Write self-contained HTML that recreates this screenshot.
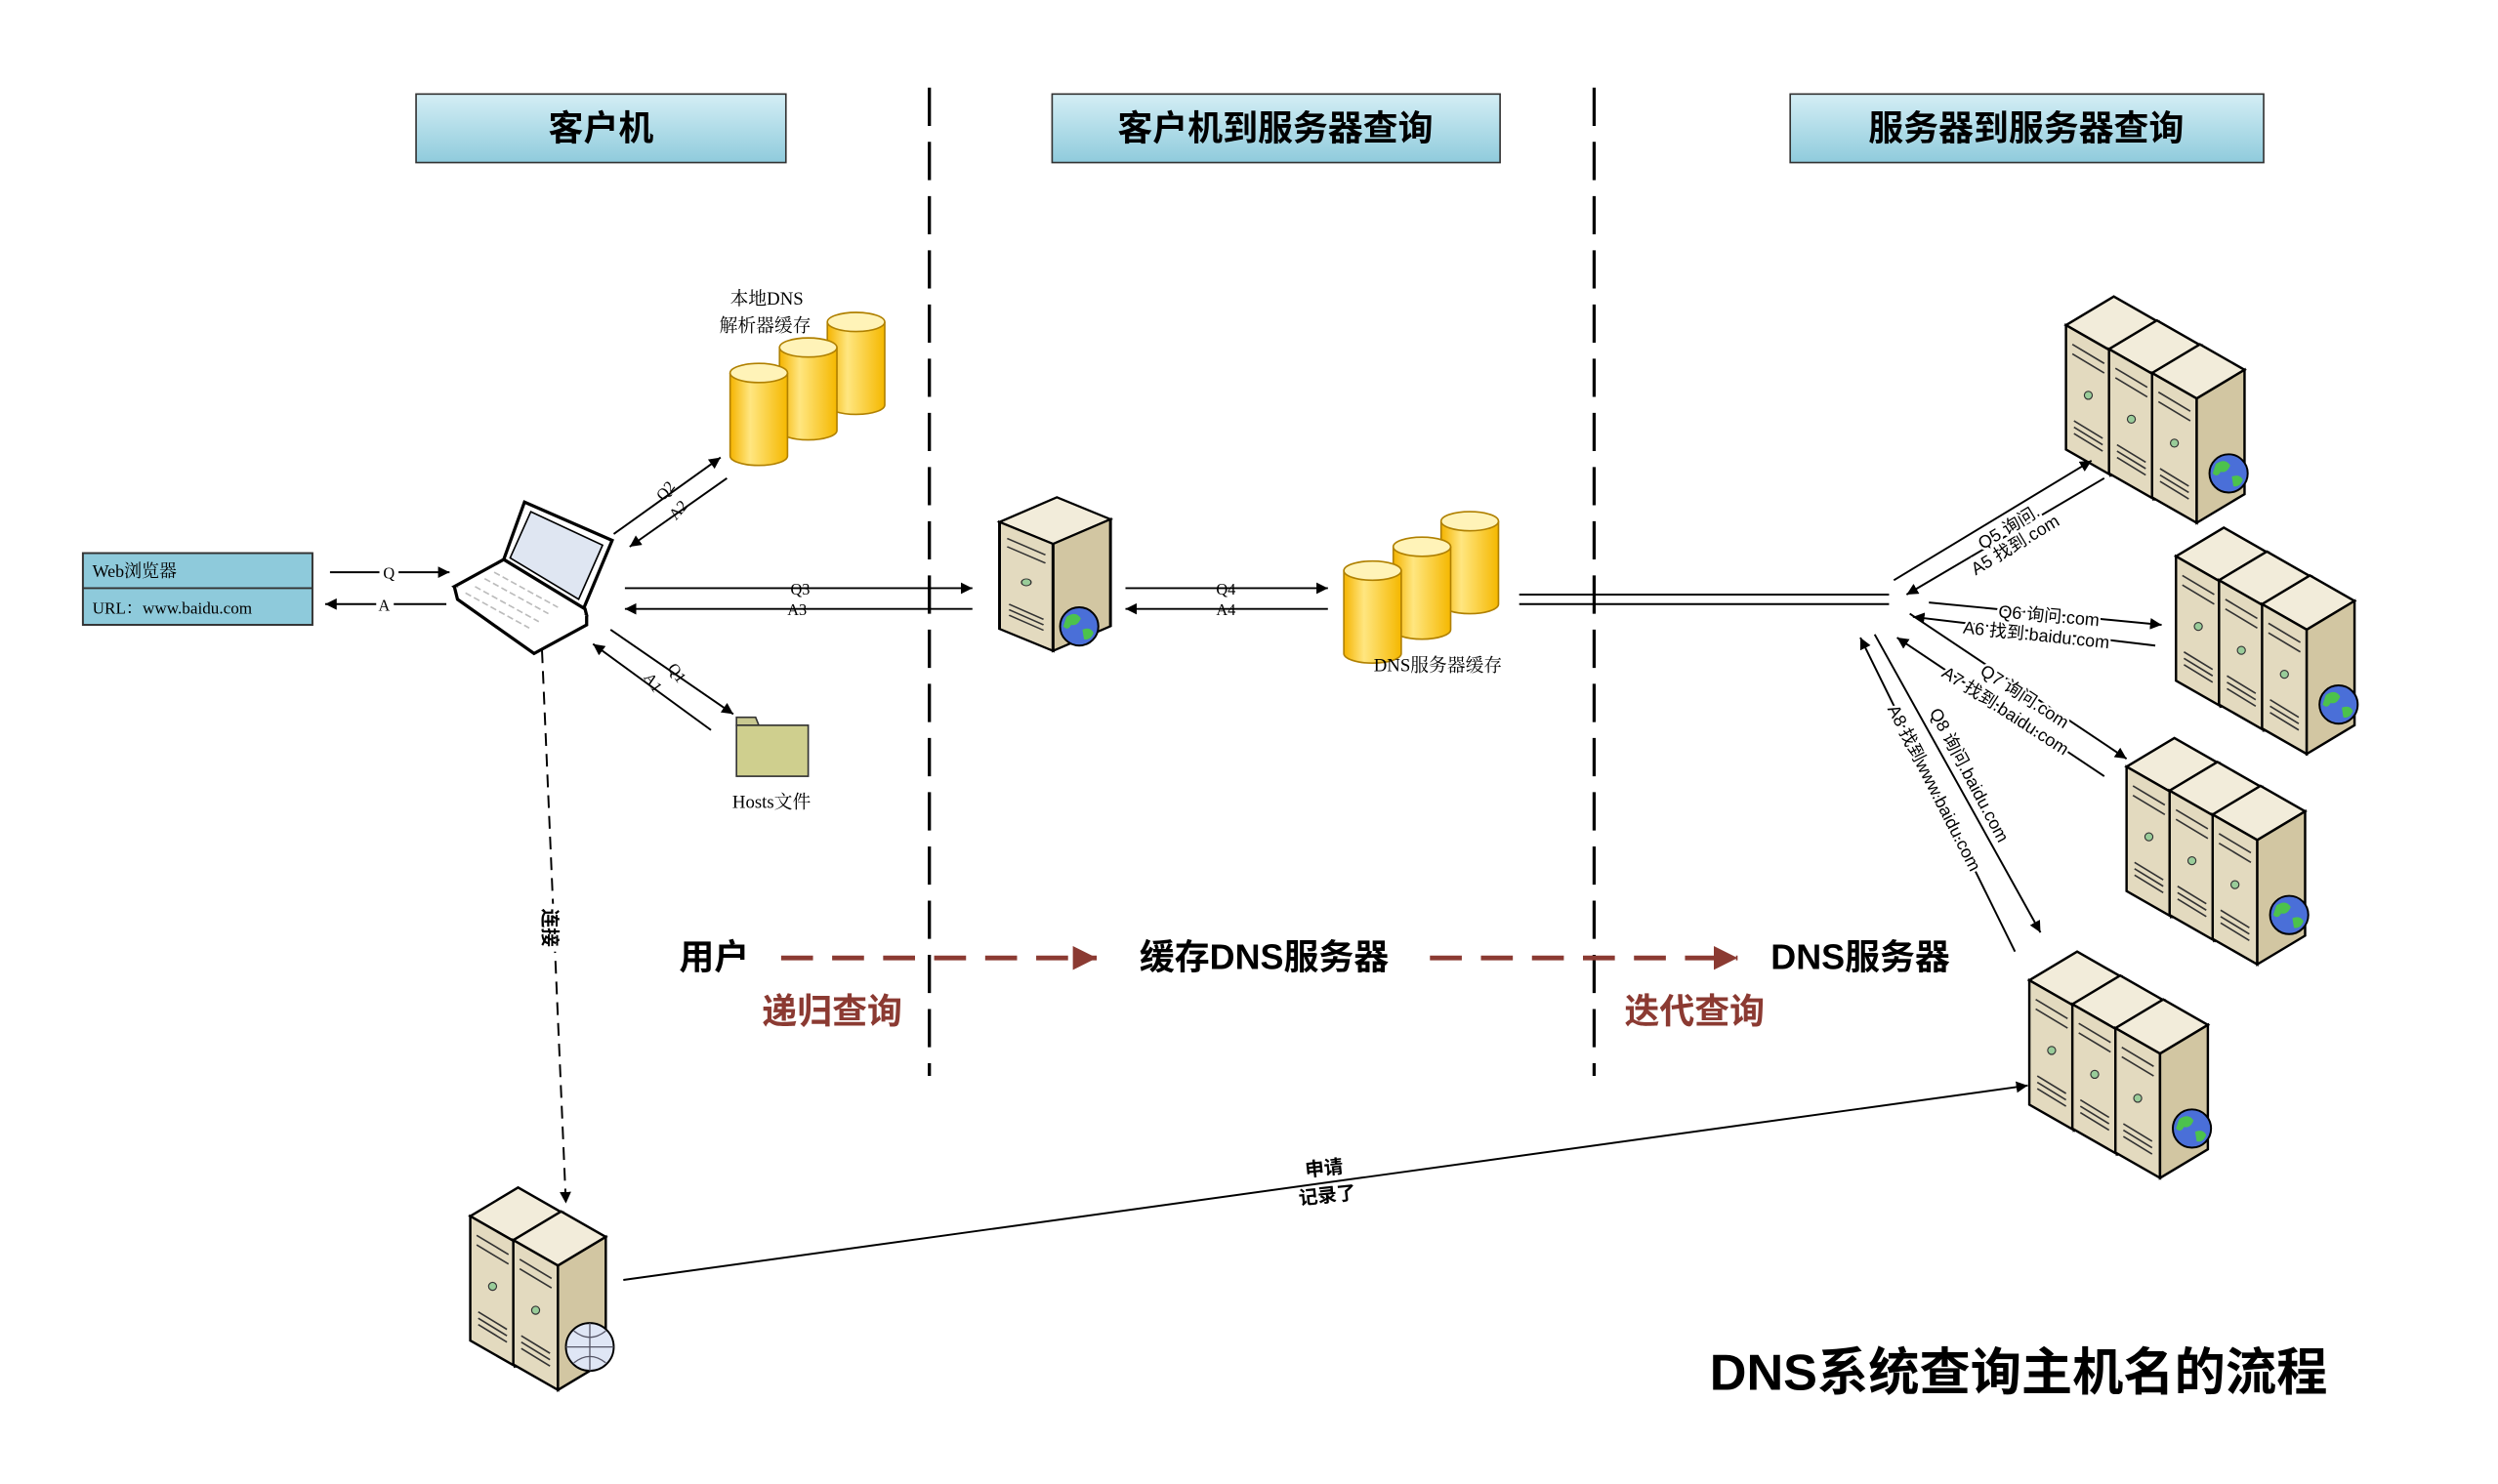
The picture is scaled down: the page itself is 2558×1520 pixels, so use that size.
<!DOCTYPE html>
<html><head><meta charset="utf-8"><style>
html,body{margin:0;padding:0;background:#fff;}
svg{display:block;}
text{font-family:"Liberation Sans","Noto Sans CJK SC",sans-serif;}
.s{font-family:"Liberation Serif","Noto Serif CJK SC",serif;}
</style></head><body>
<svg width="2558" height="1520" viewBox="0 0 1567 931" preserveAspectRatio="none" xmlns="http://www.w3.org/2000/svg">
<defs>
<linearGradient id="hb" x1="0" y1="0" x2="0" y2="1"><stop offset="0" stop-color="#d4eef5"/><stop offset="1" stop-color="#8fcbdc"/></linearGradient>
<linearGradient id="cy" x1="0" y1="0" x2="1" y2="0"><stop offset="0" stop-color="#f5b400"/><stop offset="0.35" stop-color="#ffe680"/><stop offset="1" stop-color="#f5b800"/></linearGradient>
<marker id="ah" viewBox="0 0 10 10" refX="10" refY="5" markerWidth="6" markerHeight="6" orient="auto-start-reverse"><path d="M0,0L10,5L0,10z" fill="#000"/></marker>
<marker id="ahr" viewBox="0 0 10 10" refX="10" refY="5" markerWidth="5" markerHeight="5" orient="auto"><path d="M0,0L10,5L0,10z" fill="#8b3a32"/></marker>
<g id="unit">
<polygon points="0,18 30,0 58,16 28,34" fill="#f2ecda" stroke="#000" stroke-width="1.5"/>
<polygon points="0,18 28,34 28,112 0,96" fill="#e3dabf" stroke="#000" stroke-width="1.5"/>
<polygon points="28,34 58,16 58,94 28,112" fill="#d2c6a2" stroke="#000" stroke-width="1.5"/>
<path d="M4,30 L24,42 M4,36 L24,48 M5,78 L23,89 M5,82 L23,93 M5,86 L23,97" stroke="#333" stroke-width="1" fill="none"/>
<circle cx="14" cy="62" r="2.5" fill="#9c9" stroke="#333" stroke-width="0.7"/>
</g>
<g id="globe"><circle r="12" fill="#4a6fd8" stroke="#000" stroke-width="1.2"/><path d="M-8,-6 q6,-4 9,1 q-2,5 -6,4 q-2,4 -5,1z M2,2 q5,-2 7,2 q-2,5 -6,4z" fill="#4cc24c"/></g>
<g id="srv3"><use href="#unit" x="0" y="0"/><use href="#unit" x="27" y="15"/><use href="#unit" x="54" y="30"/><use href="#globe" x="102" y="111"/></g>
<g id="cyl"><path d="M0,6 L0,58 A18,6 0 0 0 36,58 L36,6" fill="url(#cy)" stroke="#b08000" stroke-width="1"/><ellipse cx="18" cy="6" rx="18" ry="6" fill="#fff3b8" stroke="#b08000" stroke-width="1"/></g>
</defs>

<rect x="261" y="59" width="232" height="43" fill="url(#hb)" stroke="#333" stroke-width="1"/>
<text x="377" y="88" font-size="22" font-weight="bold" text-anchor="middle">客户机</text>
<rect x="660" y="59" width="281" height="43" fill="url(#hb)" stroke="#333" stroke-width="1"/>
<text x="800" y="88" font-size="22" font-weight="bold" text-anchor="middle">客户机到服务器查询</text>
<rect x="1123" y="59" width="297" height="43" fill="url(#hb)" stroke="#333" stroke-width="1"/>
<text x="1271" y="88" font-size="22" font-weight="bold" text-anchor="middle">服务器到服务器查询</text>

<line x1="583" y1="55" x2="583" y2="675" stroke="#000" stroke-width="2" stroke-dasharray="24,10"/>
<line x1="1000" y1="55" x2="1000" y2="675" stroke="#000" stroke-width="2" stroke-dasharray="24,10"/>

<rect x="52" y="347" width="144" height="45" fill="#8ecadb" stroke="#333" stroke-width="1.2"/>
<line x1="52" y1="369" x2="196" y2="369" stroke="#333" stroke-width="1.2"/>
<text x="58" y="362" font-size="11" class="s">Web浏览器</text>
<text x="58" y="385" font-size="10.5" class="s">URL：www.baidu.com</text>
<line x1="207" y1="359" x2="282" y2="359" stroke="#000" stroke-width="1.2" marker-end="url(#ah)"/>
<rect x="238" y="353" width="12" height="11" fill="#fff"/><text x="244" y="363" font-size="10" text-anchor="middle" class="s">Q</text>
<line x1="280" y1="379" x2="204" y2="379" stroke="#000" stroke-width="1.2" marker-end="url(#ah)"/>
<rect x="236" y="373" width="11" height="11" fill="#fff"/><text x="241" y="383" font-size="10" text-anchor="middle" class="s">A</text>

<polygon points="329,315 384,339 366,382 316,351" fill="#fff" stroke="#000" stroke-width="2"/>
<polygon points="333,321 378,342 363,376 320,350" fill="#dfe6f2" stroke="#000" stroke-width="1"/>
<polygon points="285,368 316,351 367,382 368,386 335,402" fill="#fff" stroke="#000" stroke-width="2"/>
<path d="M285,368 L287,376 L335,410 L368,392 L368,386" fill="#fff" stroke="#000" stroke-width="2"/>
<path d="M298,368 l40,22 M304,363 l40,22 M310,359 l40,22 M292,372 l40,22" stroke="#bbb" stroke-width="1" stroke-dasharray="4,2"/>

<use href="#cyl" x="519" y="196"/>
<use href="#cyl" x="489" y="212"/>
<use href="#cyl" x="458" y="228"/>
<text x="481" y="191" font-size="11.5" text-anchor="middle" class="s">本地DNS</text>
<text x="480" y="208" font-size="11.5" text-anchor="middle" class="s">解析器缓存</text>
<line x1="385" y1="335" x2="452" y2="287" stroke="#000" stroke-width="1.2" marker-end="url(#ah)"/>
<line x1="456" y1="300" x2="395" y2="343" stroke="#000" stroke-width="1.2" marker-end="url(#ah)"/>
<text transform="translate(420,310) rotate(-50)" font-size="10" class="s" text-anchor="middle">Q2</text>
<text transform="translate(428,322) rotate(-50)" font-size="10" class="s" text-anchor="middle">A2</text>

<line x1="383" y1="395" x2="460" y2="448" stroke="#000" stroke-width="1.2" marker-end="url(#ah)"/>
<line x1="446" y1="458" x2="372" y2="404" stroke="#000" stroke-width="1.2" marker-end="url(#ah)"/>
<text transform="translate(422,424) rotate(55)" font-size="10" class="s" text-anchor="middle">Q1</text>
<text transform="translate(407,430) rotate(55)" font-size="10" class="s" text-anchor="middle">A1</text>
<path d="M462,455 L462,450 L474,450 L476,455 Z" fill="#c8c890" stroke="#333" stroke-width="1"/>
<rect x="462" y="455" width="45" height="32" fill="#cfcf8e" stroke="#333" stroke-width="1"/>
<text x="484" y="507" font-size="11.5" text-anchor="middle" class="s">Hosts文件</text>

<line x1="392" y1="369" x2="610" y2="369" stroke="#000" stroke-width="1.2" marker-end="url(#ah)"/>
<line x1="610" y1="382" x2="392" y2="382" stroke="#000" stroke-width="1.2" marker-end="url(#ah)"/>
<text x="502" y="373" font-size="10" text-anchor="middle" class="s">Q3</text>
<text x="500" y="386" font-size="10" text-anchor="middle" class="s">A3</text>

<g transform="translate(627,312) scale(1.2,0.86)"><use href="#unit"/></g>
<use href="#globe" x="677" y="393"/>

<line x1="706" y1="369" x2="833" y2="369" stroke="#000" stroke-width="1.2" marker-end="url(#ah)"/>
<line x1="833" y1="382" x2="706" y2="382" stroke="#000" stroke-width="1.2" marker-end="url(#ah)"/>
<text x="769" y="373" font-size="10" text-anchor="middle" class="s">Q4</text>
<text x="769" y="386" font-size="10" text-anchor="middle" class="s">A4</text>

<use href="#cyl" x="904" y="321"/>
<use href="#cyl" x="874" y="337"/>
<use href="#cyl" x="843" y="352"/>
<text x="902" y="421" font-size="11.5" text-anchor="middle" class="s">DNS服务器缓存</text>

<line x1="953" y1="373" x2="1185" y2="373" stroke="#000" stroke-width="1.2"/>
<line x1="953" y1="379" x2="1185" y2="379" stroke="#000" stroke-width="1.2"/>

<use href="#srv3" x="1296" y="186"/>
<use href="#srv3" x="1365" y="331"/>
<use href="#srv3" x="1334" y="463"/>
<use href="#srv3" x="1273" y="597"/>

<line x1="1188" y1="364" x2="1312" y2="289" stroke="#000" stroke-width="1.2" marker-end="url(#ah)"/>
<line x1="1320" y1="300" x2="1196" y2="373" stroke="#000" stroke-width="1.2" marker-end="url(#ah)"/>
<text transform="translate(1262,334) rotate(-31)" font-size="11" text-anchor="middle" stroke="#fff" stroke-width="3" paint-order="stroke">Q5 询问.</text>
<text transform="translate(1266,345) rotate(-31)" font-size="11" text-anchor="middle" stroke="#fff" stroke-width="3" paint-order="stroke">A5 找到.com</text>

<line x1="1210" y1="378" x2="1356" y2="392" stroke="#000" stroke-width="1.2" marker-end="url(#ah)"/>
<line x1="1352" y1="405" x2="1200" y2="387" stroke="#000" stroke-width="1.2" marker-end="url(#ah)"/>
<text transform="translate(1285,390) rotate(5)" font-size="11" text-anchor="middle" stroke="#fff" stroke-width="3" paint-order="stroke">Q6 询问.com</text>
<text transform="translate(1277,402) rotate(6)" font-size="11" text-anchor="middle" stroke="#fff" stroke-width="3" paint-order="stroke">A6 找到.baidu.com</text>

<line x1="1198" y1="385" x2="1334" y2="476" stroke="#000" stroke-width="1.2" marker-end="url(#ah)"/>
<line x1="1320" y1="487" x2="1190" y2="400" stroke="#000" stroke-width="1.2" marker-end="url(#ah)"/>
<text transform="translate(1268,440) rotate(33)" font-size="11" text-anchor="middle" stroke="#fff" stroke-width="3" paint-order="stroke">Q7 询问.com</text>
<text transform="translate(1256,449) rotate(33)" font-size="11" text-anchor="middle" stroke="#fff" stroke-width="3" paint-order="stroke">A7 找到.baidu.com</text>

<line x1="1176" y1="398" x2="1280" y2="585" stroke="#000" stroke-width="1.2" marker-end="url(#ah)"/>
<line x1="1264" y1="597" x2="1167" y2="400" stroke="#000" stroke-width="1.2" marker-end="url(#ah)"/>
<text transform="translate(1232,488) rotate(62)" font-size="11" text-anchor="middle" stroke="#fff" stroke-width="3" paint-order="stroke">Q8 询问.baidu.com</text>
<text transform="translate(1210,496) rotate(63)" font-size="11" text-anchor="middle" stroke="#fff" stroke-width="3" paint-order="stroke">A8 找到www.baidu.com</text>

<line x1="340" y1="408" x2="355" y2="755" stroke="#000" stroke-width="1.2" stroke-dasharray="8,5" marker-end="url(#ah)"/>
<rect x="338" y="567" width="14" height="30" fill="#fff"/>
<text transform="translate(341,582) rotate(90)" font-size="12" font-weight="bold" text-anchor="middle">连接</text>

<use href="#unit" x="295" y="745"/>
<g transform="translate(322,760)"><use href="#unit"/></g>
<g transform="translate(370,845)"><circle r="15" fill="#dfe6f5" stroke="#000" stroke-width="1.2"/><path d="M-15,0 h30 M0,-15 v30 M-10,-10 q10,8 20,0 M-10,10 q10,-8 20,0" stroke="#556" fill="none" stroke-width="0.8"/></g>

<line x1="391" y1="803" x2="1272" y2="681" stroke="#000" stroke-width="1.2" marker-end="url(#ah)"/>
<text transform="translate(831,737) rotate(-6)" font-size="12" font-weight="bold" text-anchor="middle">申请</text>
<text transform="translate(833,754) rotate(-6)" font-size="12" font-weight="bold" text-anchor="middle">记录了</text>

<text x="448" y="608" font-size="22" font-weight="bold" text-anchor="middle">用户</text>
<line x1="490" y1="601" x2="688" y2="601" stroke="#8b3a32" stroke-width="3" stroke-dasharray="20,12" marker-end="url(#ahr)"/>
<text x="793" y="608" font-size="22" font-weight="bold" text-anchor="middle">缓存DNS服务器</text>
<line x1="897" y1="601" x2="1090" y2="601" stroke="#8b3a32" stroke-width="3" stroke-dasharray="20,12" marker-end="url(#ahr)"/>
<text x="1167" y="608" font-size="22" font-weight="bold" text-anchor="middle">DNS服务器</text>
<text x="522" y="642" font-size="22" font-weight="bold" fill="#8b3a32" text-anchor="middle">递归查询</text>
<text x="1063" y="642" font-size="22" font-weight="bold" fill="#8b3a32" text-anchor="middle">迭代查询</text>

<text x="1460" y="872" font-size="32" font-weight="bold" text-anchor="end">DNS系统查询主机名的流程</text>
</svg>
</body></html>
